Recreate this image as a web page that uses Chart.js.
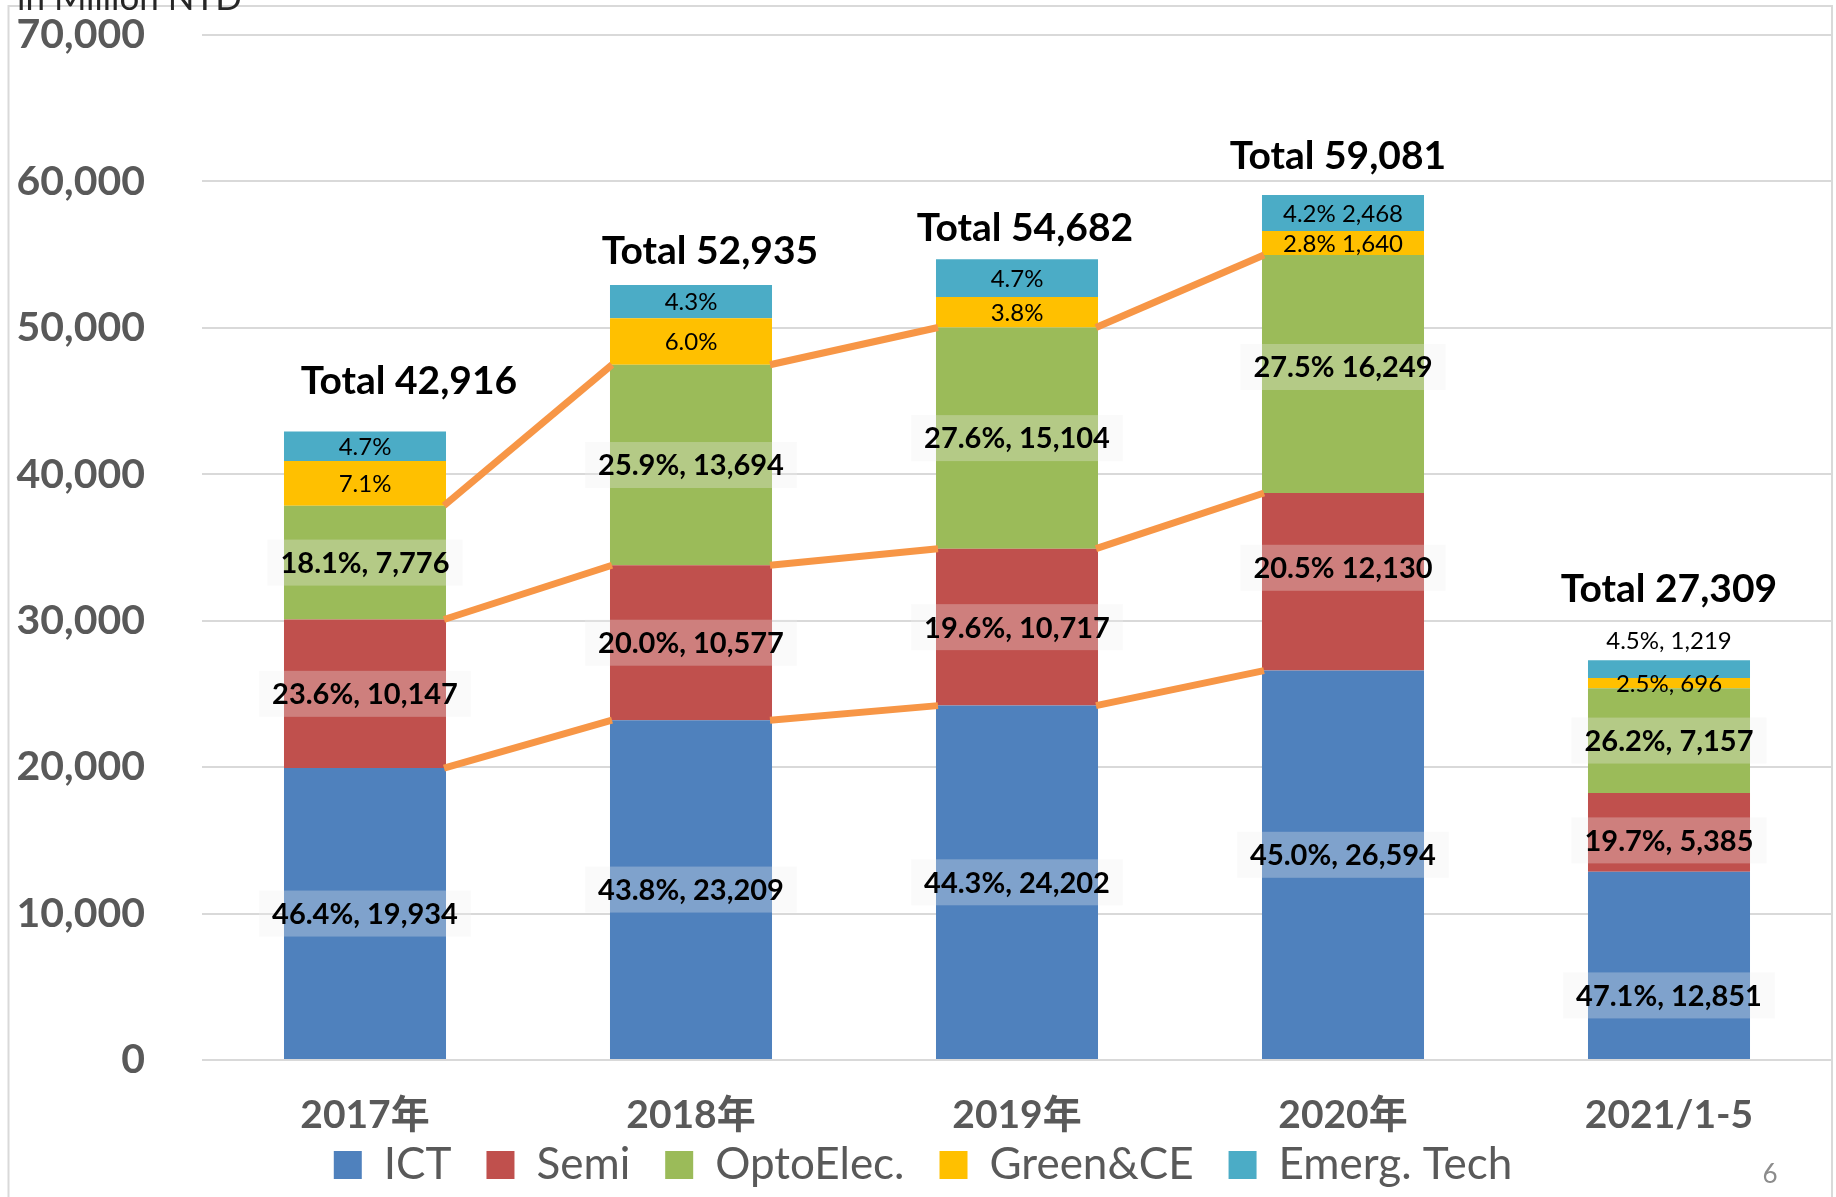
<!DOCTYPE html>
<html><head><meta charset="utf-8">
<script src="https://cdn.jsdelivr.net/npm/chart.js@4.4.0/dist/chart.umd.min.js"></script>
<style>html,body{margin:0;padding:0;background:#fff;} canvas{display:block;}</style>
</head><body>
<canvas id="c" width="1836" height="1197"></canvas>
<script>
// ---------- data ----------
const categories = ['2017年', '2018年', '2019年', '2020年', '2021/1-5'];
const seriesNames = ['ICT', 'Semi', 'OptoElec.', 'Green&CE', 'Emerg. Tech'];
const ictValues   = [19934, 23209, 24202, 26594, 12851];
const semiValues  = [10147, 10577, 10717, 12130, 5385];
const optoValues  = [7776, 13694, 15104, 16249, 7157];
const greenValues = [3047, 3176, 2078, 1640, 696];
const emergValues = [2012, 2279, 2581, 2468, 1219];
const totals      = [42916, 52935, 54682, 59081, 27309];
const ictLabels   = ['46.4%, 19,934', '43.8%, 23,209', '44.3%, 24,202', '45.0%, 26,594', '47.1%, 12,851'];
const semiLabels  = ['23.6%, 10,147', '20.0%, 10,577', '19.6%, 10,717', '20.5% 12,130', '19.7%, 5,385'];
const optoLabels  = ['18.1%, 7,776', '25.9%, 13,694', '27.6%, 15,104', '27.5% 16,249', '26.2%, 7,157'];
const greenLabels = ['7.1%', '6.0%', '3.8%', '2.8% 1,640', '2.5%, 696'];
const emergLabels = ['4.7%', '4.3%', '4.7%', '4.2% 2,468', '4.5%, 1,219'];
const yTickValues = [0, 10000, 20000, 30000, 40000, 50000, 60000, 70000];
const axisTitle = 'in Million NTD';
const pageNumber = '6';

// ---------- styles ----------
const FONT = "Lato, 'Noto Sans CJK TC', sans-serif";
const colors = ['#4F81BD', '#C0504D', '#9BBB59', '#FFC000', '#4BACC6'];
const valueSets = [ictValues, semiValues, optoValues, greenValues, emergValues];
const labelSets = [ictLabels, semiLabels, optoLabels, greenLabels, emergLabels];
const PAD_LEFT = 14;

const fmt = v => v.toLocaleString('en-US');

const decorPlugin = {
  id: 'decor',
  beforeDraw(chart) {
    const ctx = chart.ctx;
    ctx.save();
    ctx.fillStyle = '#fff';
    ctx.fillRect(0, 0, chart.width, chart.height);
    ctx.strokeStyle = '#D9D9D9';
    ctx.lineWidth = 2;
    ctx.beginPath();
    ctx.moveTo(8.5, chart.height + 5);
    ctx.lineTo(8.5, 6);
    ctx.lineTo(1832, 6);
    ctx.lineTo(1832, chart.height + 5);
    ctx.stroke();
    ctx.fillStyle = '#262626';
    ctx.font = '35px ' + FONT;
    ctx.textAlign = 'left';
    ctx.textBaseline = 'alphabetic';
    ctx.fillText(axisTitle, 17, 10);
    ctx.restore();
  },
  afterDatasetsDraw(chart, args, opts) {
    const ctx = chart.ctx;
    ctx.save();
    // series lines between stacked segments
    ctx.strokeStyle = '#F79646';
    ctx.lineWidth = 7;
    ctx.lineCap = 'butt';
    opts.seriesLineDatasets.forEach(di => {
      const meta = chart.getDatasetMeta(di);
      for (let j = 0; j < opts.seriesLineCount; j++) {
        const a = meta.data[j], b = meta.data[j + 1];
        ctx.beginPath();
        ctx.moveTo(a.x + a.width / 2 - 2, a.y);
        ctx.lineTo(b.x - b.width / 2 + 2, b.y);
        ctx.stroke();
      }
    });
    // segment labels
    ctx.textAlign = 'center';
    ctx.textBaseline = 'middle';
    chart.data.datasets.forEach((ds, di) => {
      const meta = chart.getDatasetMeta(di);
      const st = opts.styles[di];
      meta.data.forEach((el, j) => {
        const text = labelSets[di][j];
        let cy = (el.y + el.base) / 2;
        if (st.place && st.place[j] === 'above') cy = el.y - st.aboveGap;
        cy += (opts.labelShift[di + ',' + j] || 0);
        ctx.font = `${st.weight} ${st.size}px ${FONT}`;
        const w = ctx.measureText(text).width;
        if (st.bg) {
          ctx.fillStyle = st.bg;
          ctx.fillRect(el.x - w / 2 - 13, cy - 23, w + 26, 46);
        }
        ctx.fillStyle = '#000';
        ctx.fillText(text, el.x, cy + 1);
      });
    });
    // totals
    const topMeta = chart.getDatasetMeta(chart.data.datasets.length - 1);
    ctx.font = `bold 39px ${FONT}`;
    ctx.fillStyle = '#000';
    topMeta.data.forEach((el, j) => {
      const off = opts.totalOffsets[j];
      ctx.fillText('Total ' + fmt(totals[j]), el.x + off[0], el.y - off[1]);
    });
    // page number
    ctx.fillStyle = '#8C8C8C';
    ctx.font = `26px ${FONT}`;
    ctx.fillText(pageNumber, 1770, 1175);
    ctx.restore();
  }
};

const datasets = seriesNames.map((name, i) => ({
  label: name,
  data: valueSets[i],
  backgroundColor: colors[i],
  borderWidth: 0,
  categoryPercentage: 0.497,
  barPercentage: 1.0
}));

new Chart(document.getElementById('c'), {
  type: 'bar',
  data: { labels: categories, datasets },
  plugins: [decorPlugin],
  options: {
    responsive: false,
    animation: false,
    devicePixelRatio: 1,
    layout: { padding: { top: 35, right: 4, left: PAD_LEFT, bottom: 0 } },
    scales: {
      x: {
        stacked: true,
        grid: { display: false, drawTicks: false },
        border: { display: false },
        ticks: {
          color: '#595959',
          font: { family: FONT, size: 39, weight: 'bold' },
          mirror: true,
          padding: -79,
          maxRotation: 0,
          autoSkip: false
        },
        afterFit(scale) { scale.height = 48; }
      },
      y: {
        stacked: true,
        min: 0,
        max: 70000,
        afterBuildTicks(scale) { scale.ticks = yTickValues.map(v => ({ value: v })); },
        grid: { color: '#D9D9D9', lineWidth: 2, drawTicks: true, tickLength: 47, tickColor: 'rgba(0,0,0,0)' },
        border: { display: false },
        ticks: {
          color: '#595959',
          font: { family: FONT, size: 41, weight: 'bold' },
          padding: 10,
          callback: v => fmt(v)
        },
        afterFit(scale) { scale.width = 202 - PAD_LEFT; }
      }
    },
    plugins: {
      tooltip: { enabled: false },
      legend: {
        position: 'bottom',
        labels: {
          color: '#595959',
          font: { family: FONT, size: 44 },
          boxWidth: 28,
          boxHeight: 28,
          padding: 35
        }
      },
      decor: {
        seriesLineDatasets: [0, 1, 2],
        seriesLineCount: 3,
        styles: [
          { weight: 'bold', size: 29, bg: 'rgba(240,240,240,0.3)' },
          { weight: 'bold', size: 29, bg: 'rgba(240,240,240,0.3)' },
          { weight: 'bold', size: 29, bg: 'rgba(240,240,240,0.3)' },
          { weight: 'normal', size: 24, bg: null },
          { weight: 'normal', size: 24, bg: null, place: ['c', 'c', 'c', 'c', 'above'], aboveGap: 20 }
        ],
        labelShift: { '0,3': -10, '0,4': 30, '1,3': -14, '1,4': 8, '2,3': -7 },
        totalOffsets: [[44, 50], [19, 33], [8, 31], [-5, 38], [0, 71]]
      }
    }
  }
});
</script>
</body></html>
